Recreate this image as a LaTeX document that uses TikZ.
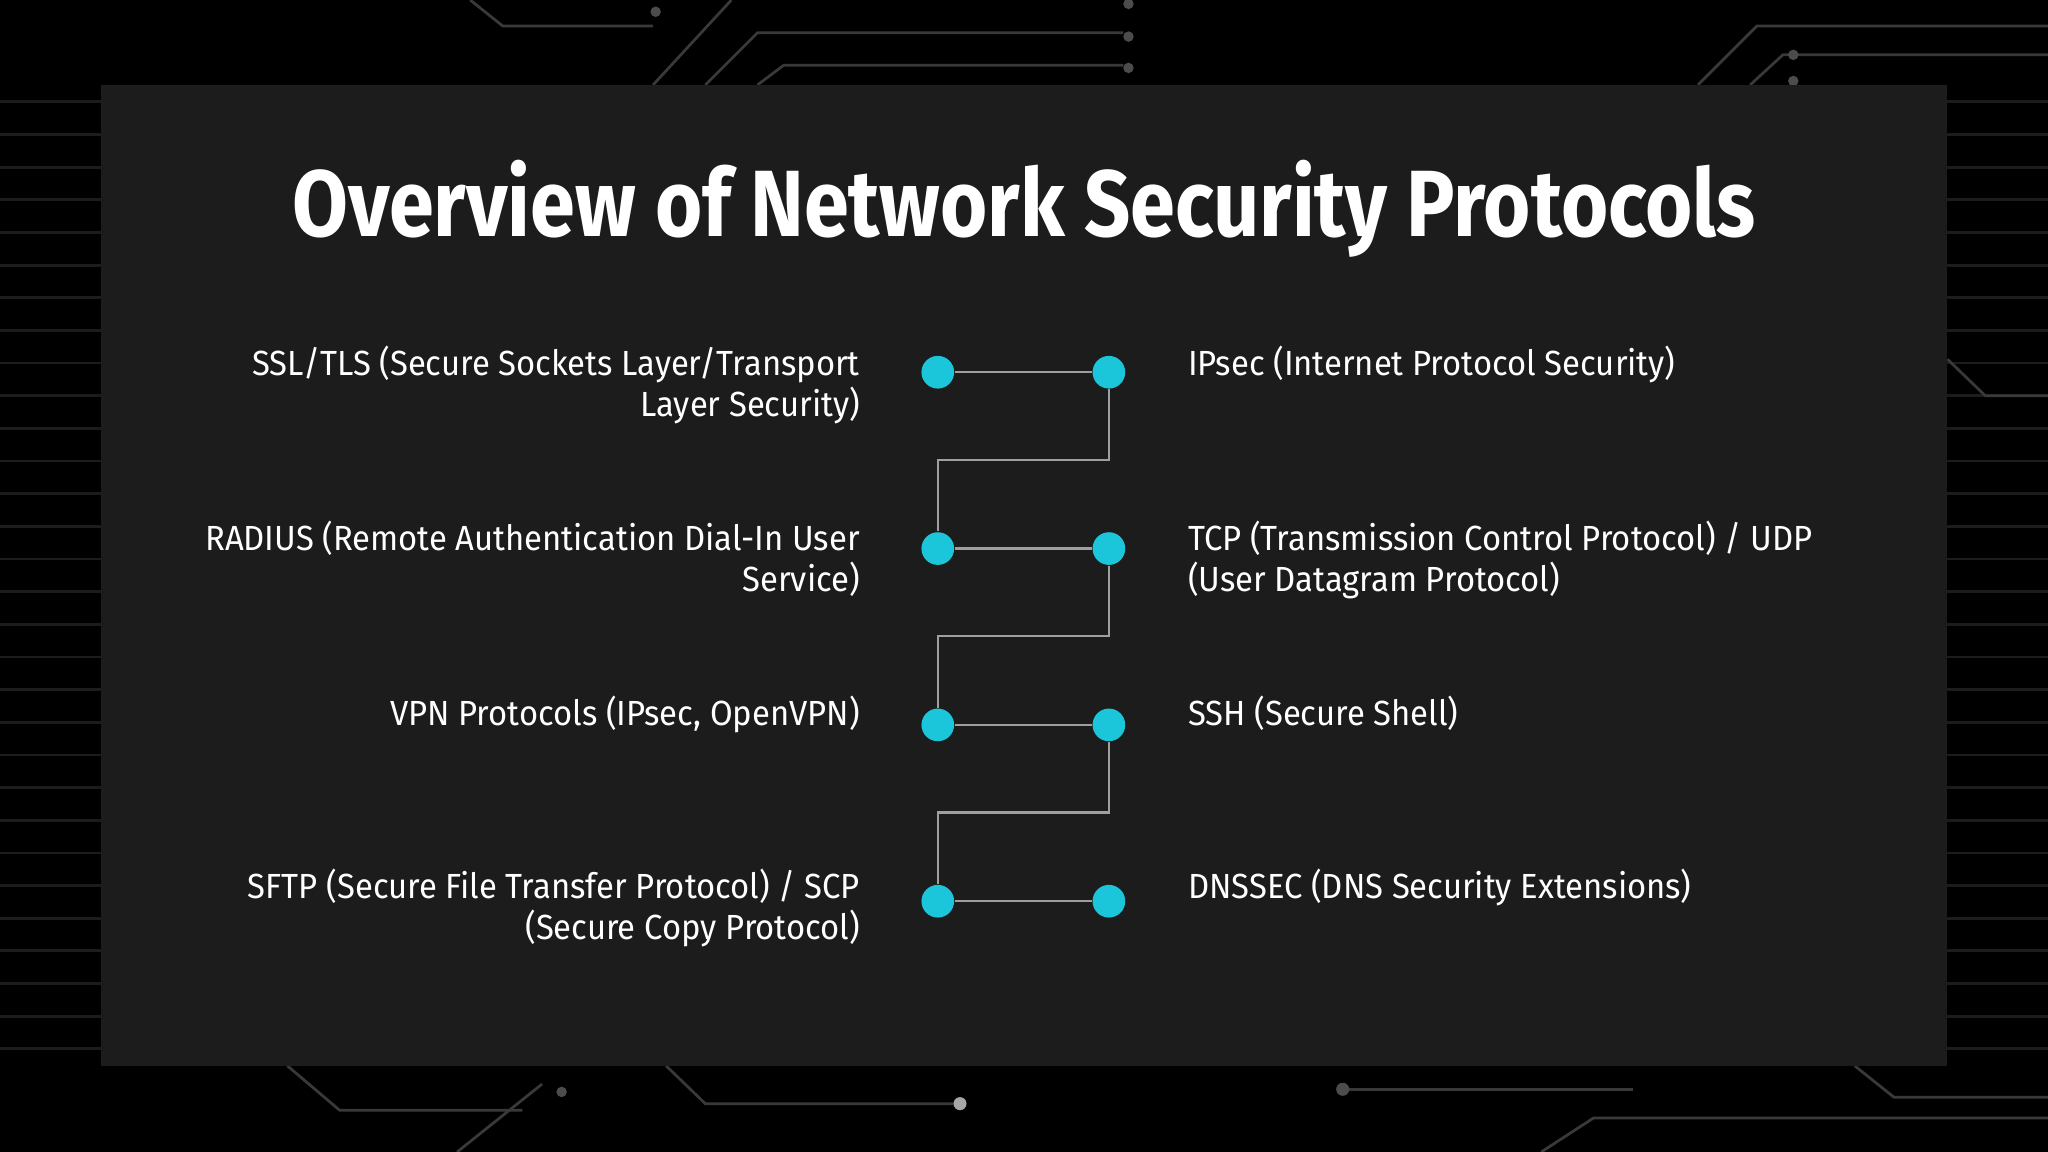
\documentclass[tikz,border=0pt]{standalone}
\usepackage{fontspec}
\setmainfont{Fira Sans}
\newfontfamily\titlefont[FakeStretch=0.86]{Fira Sans}
\newfontfamily\bodyfont[FakeStretch=0.94]{Fira Sans}
\begin{document}
\begin{tikzpicture}[x=0.01cm,y=-0.01cm,
  dot/.style={circle,minimum size=0.25cm,inner sep=0},
  wire/.style={draw=gray!75,line width=0.5pt},
  bgline/.style={draw=gray!45!black,line width=0.6pt},
  ltxt/.style={text=white,align=right,anchor=north east,inner sep=0,font=\bodyfont\fontsize{7.6}{8.9}\selectfont},
  rtxt/.style={text=white,align=left,anchor=north west,inner sep=0,font=\bodyfont\fontsize{7.6}{8.9}\selectfont}]
\definecolor{dotc}{HTML}{1CC6DA}
\tikzset{dot/.append style={fill=dotc}}
\fill[black] (0,0) rectangle (1568,882);
\useasboundingbox (0,0) rectangle (1568,882);
% background circuitry
\foreach \y in {78,103,128,153,178,203,228,253,278,303,328,353,378,403,428,453,478,503,528,553,578,603,628,653,678,703,728,753,778,803}{
  \draw[bgline,draw=gray!22!black] (0,\y) -- (77,\y);
  \draw[bgline,draw=gray!22!black] (1491,\y) -- (1568,\y);}
\draw[bgline] (360,0) -- (385,20) -- (500,20);
\fill[gray!60!black] (502,9) circle (4);
\draw[bgline] (500,65) -- (560,0);
\draw[bgline] (540,65) -- (580,25) -- (860,25);
\draw[bgline] (580,65) -- (600,50) -- (860,50);
\fill[gray!60!black] (864,3) circle (4); \fill[gray!60!black] (864,28) circle (4); \fill[gray!60!black] (864,52) circle (4);
\draw[bgline] (1300,65) -- (1345,20) -- (1568,20);
\draw[bgline] (1340,65) -- (1365,42) -- (1568,42);
\fill[gray!60!black] (1373,42) circle (4); \fill[gray!60!black] (1373,62) circle (4);
\draw[bgline] (1491,275) -- (1520,303) -- (1568,303);
\draw[bgline] (220,816) -- (260,850) -- (400,850);
\draw[bgline] (350,882) -- (415,830);
\fill[gray!60!black] (430,836) circle (4);
\draw[bgline] (510,816) -- (540,845) -- (730,845);
\fill[gray!70] (735,845) circle (5);
\draw[bgline] (1030,834) -- (1250,834);
\fill[gray!60!black] (1028,834) circle (5);
\draw[bgline] (1180,882) -- (1220,856) -- (1568,856);
\draw[bgline] (1420,816) -- (1450,840) -- (1568,840);
% panel
\fill[fill=black!89] (77,65) rectangle (1491,816);
\node[text=white,font=\titlefont\fontsize{20.5}{24}\bfseries\selectfont,inner sep=0] (title) at (784,160) {Overview of Network Security Protocols};
% dots
\foreach \n/\y in {1/285,2/420,3/555,4/690}{
  \node[dot] (L\n) at (718,\y) {};
  \node[dot] (R\n) at (849,\y) {};
  \draw[wire] (L\n) -- (R\n);}
\draw[wire] (R1) |- (784,352) -| (L2);
\draw[wire] (R2) |- (784,487) -| (L3);
\draw[wire] (R3) |- (784,622) -| (L4);
% texts
\node[ltxt] (t1) at (659,264) {SSL/TLS (Secure Sockets Layer/Transport\\Layer Security)};
\node[ltxt] (t2) at (659,398) {RADIUS (Remote Authentication Dial-In User\\Service)};
\node[ltxt] (t3) at (659,532) {VPN Protocols (IPsec, OpenVPN)};
\node[ltxt] (t4) at (659,665) {SFTP (Secure File Transfer Protocol) / SCP\\(Secure Copy Protocol)};
\node[rtxt] (u1) at (909,264) {IPsec (Internet Protocol Security)};
\node[rtxt] (u2) at (909,398) {TCP (Transmission Control Protocol) / UDP\\(User Datagram Protocol)};
\node[rtxt] (u3) at (909,532) {SSH (Secure Shell)};
\node[rtxt] (u4) at (909,665) {DNSSEC (DNS Security Extensions)};
\end{tikzpicture}
\end{document}
